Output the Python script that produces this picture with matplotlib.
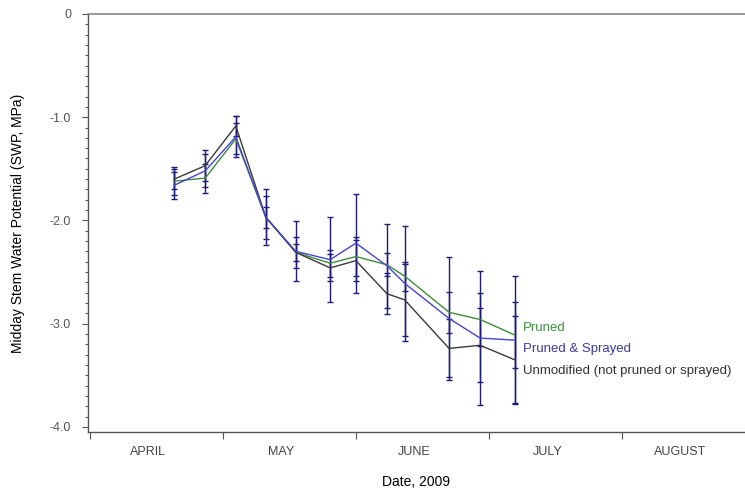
import matplotlib
matplotlib.use("Agg")
import matplotlib.pyplot as plt
from matplotlib.ticker import FixedLocator, MultipleLocator, NullFormatter
import calendar

# ---- data ----
dates = ["2009-04-20", "2009-04-27", "2009-05-04", "2009-05-11", "2009-05-18",
         "2009-05-26", "2009-06-01", "2009-06-08", "2009-06-12", "2009-06-22",
         "2009-06-29", "2009-07-07"]
pruned = [-1.62, -1.59, -1.21, -1.97, -2.31, -2.415, -2.35, -2.43, -2.54, -2.89, -2.96, -3.11]
pruned_err = [0.135, 0.14, 0.15, 0.21, 0.08, 0.13, 0.19, 0.11, 0.14, 0.20, 0.26, 0.32]
sprayed = [-1.66, -1.52, -1.19, -1.97, -2.30, -2.38, -2.22, -2.44, -2.61, -2.95, -3.14, -3.16]
sprayed_err = [0.13, 0.16, 0.20, 0.27, 0.29, 0.41, 0.48, 0.41, 0.56, 0.60, 0.65, 0.62]
unmod = [-1.60, -1.47, -1.085, -1.97, -2.31, -2.46, -2.39, -2.71, -2.77, -3.24, -3.21, -3.35]
unmod_err = [0.10, 0.15, 0.10, 0.10, 0.15, 0.13, 0.20, 0.20, 0.35, 0.28, 0.36, 0.42]
months = ["APRIL", "MAY", "JUNE", "JULY", "AUGUST"]
series_labels = ["Pruned", "Pruned & Sprayed", "Unmodified (not pruned or sprayed)"]


def month_pos(d):
    y, m, day = (int(p) for p in d.split("-"))
    ndays = calendar.monthrange(y, m)[1]
    return (m - 4) + (day - 1) / ndays


x = [month_pos(d) for d in dates]

plt.rcParams['font.family'] = ['Liberation Sans', 'DejaVu Sans']

fig = plt.figure(figsize=(7.45, 4.94), dpi=100)
ax = fig.add_axes([0.118, 0.1255, 0.882, 0.8462])

c_green = '#3c8c3c'
c_blue = '#4545d0'
c_black = '#3a3a3a'
c_err = '#1c1c78'

for yv, ev in [(unmod, unmod_err), (pruned, pruned_err), (sprayed, sprayed_err)]:
    ax.errorbar(x, yv, yerr=ev, fmt='none', ecolor=c_err, elinewidth=1.0,
                capsize=2.5, capthick=1.0, zorder=2)

ax.plot(x, pruned, color=c_green, lw=1.0, zorder=3)
ax.plot(x, sprayed, color=c_blue, lw=1.0, zorder=4)
ax.plot(x, unmod, color=c_black, lw=1.0, zorder=3)

tx = x[-1] + 0.06
ax.text(tx, -3.04, series_labels[0], color='#3f8f3f', fontsize=9.5, va='center', ha='left')
ax.text(tx, -3.245, series_labels[1], color='#3a3a9a', fontsize=9.5, va='center', ha='left')
ax.text(tx, -3.455, series_labels[2], color='#333333', fontsize=9.5, va='center', ha='left')

ax.set_xlim(-0.015, 4.925)
ax.set_ylim(-4.05, 0)

# y ticks
yt = [0, -1.0, -2.0, -3.0, -4.0]
ax.set_yticks(yt)
ax.set_yticklabels(["0", "-1.0", "-2.0", "-3.0", "-4.0"])
ax.yaxis.set_minor_locator(MultipleLocator(0.1))
ax.tick_params(axis='y', which='major', direction='out', length=4, width=0.8,
               colors='#555555', labelsize=9, pad=8)
ax.tick_params(axis='y', which='minor', direction='out', length=2.5, width=0.8,
               colors='#555555')

# x ticks: month boundaries, labels between
ax.xaxis.set_major_locator(FixedLocator([0, 1, 2, 3, 4]))
ax.xaxis.set_major_formatter(NullFormatter())
ax.xaxis.set_minor_locator(FixedLocator([i + 0.44 for i in range(len(months))]))
ax.set_xticklabels(months, minor=True)
ax.tick_params(axis='x', which='major', direction='out', length=5, width=0.8, colors='#555555')
ax.tick_params(axis='x', which='minor', length=0, labelsize=9, labelcolor='#444444', pad=10)

for s in ['left', 'bottom']:
    ax.spines[s].set_color('#555555')
    ax.spines[s].set_linewidth(1.0)
ax.spines['top'].set_color('#888888')
ax.spines['top'].set_linewidth(1.2)
ax.spines['right'].set_visible(False)

ax.set_xlabel("Date, 2009", fontsize=10, labelpad=12)
ax.set_ylabel("Midday Stem Water Potential (SWP, MPa)", fontsize=10, labelpad=18)

fig.savefig("out.png", dpi=100)
